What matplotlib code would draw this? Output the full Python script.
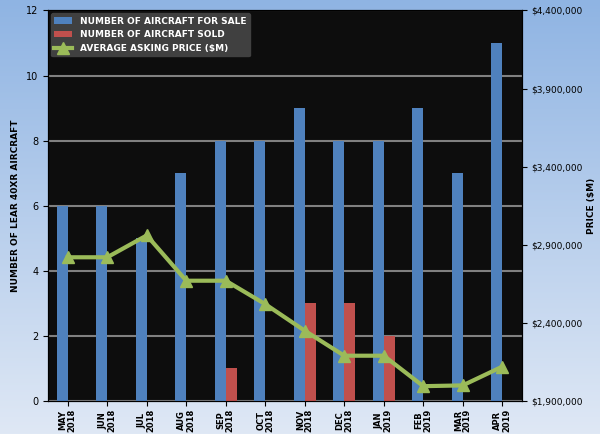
import matplotlib.pyplot as plt
import numpy as np
from matplotlib.ticker import FuncFormatter

months = ["MAY\n2018", "JUN\n2018", "JUL\n2018", "AUG\n2018", "SEP\n2018", "OCT\n2018",
          "NOV\n2018", "DEC\n2018", "JAN\n2019", "FEB\n2019", "MAR\n2019", "APR\n2019"]
for_sale = [6, 6, 5, 7, 8, 8, 9, 8, 8, 9, 7, 11]
sold = [0, 0, 0, 0, 1, 0, 3, 3, 2, 0, 0, 0]
avg_price = [2820000, 2820000, 2960000, 2670000, 2670000, 2520000,
             2350000, 2190000, 2190000, 1995000, 2000000, 2120000]

fig = plt.figure(figsize=(6.0, 4.34), dpi=100)
# blue gradient background
bg = fig.add_axes([0, 0, 1, 1], zorder=-10)
grad = np.linspace(0, 1, 256).reshape(-1, 1)
bg.imshow(grad, aspect="auto", cmap=plt.matplotlib.colors.LinearSegmentedColormap.from_list(
    "g", ["#8fb4e3", "#dfe8f5"]), extent=[0, 1, 0, 1])
bg.axis("off")

ax = fig.add_axes([0.08, 0.076, 0.79, 0.9])
ax.set_facecolor("#0d0d0d")
x = np.arange(len(months))
w = 0.28
ax.bar(x - w / 2, for_sale, w, color="#4f81bd", label="NUMBER OF AIRCRAFT FOR SALE", zorder=3)
ax.bar(x + w / 2, sold, w, color="#c0504d", label="NUMBER OF AIRCRAFT SOLD", zorder=3)
ax.set_ylim(0, 12)
ax.set_xlim(-0.5, len(months) - 0.5)
ax.set_yticks(range(0, 13, 2))
ax.grid(axis="y", color="#808080", lw=1.5, zorder=0)
ax.set_xticks(x)
ax.set_xticklabels(months, rotation=90, fontsize=6, fontweight="bold", linespacing=1.0)
ax.tick_params(axis="x", pad=2)
ax.tick_params(axis="y", labelsize=7)
ax.set_ylabel("NUMBER OF LEAR 40XR AIRCRAFT", fontsize=6.5, fontweight="bold")

ax2 = ax.twinx()
ax2.plot(x, avg_price, color="#9bbb59", lw=3, marker="^", ms=8,
         label="AVERAGE ASKING PRICE ($M)", zorder=5)
ax2.set_ylim(1900000, 4400000)
ax2.set_yticks(range(1900000, 4400001, 500000))
ax2.yaxis.set_major_formatter(FuncFormatter(lambda v, p: f"${v:,.0f}"))
ax2.tick_params(axis="y", labelsize=6.5)
ax2.set_ylabel("PRICE ($M)", fontsize=6.5, fontweight="bold", labelpad=3)

h1, l1 = ax.get_legend_handles_labels()
h2, l2 = ax2.get_legend_handles_labels()
leg = ax2.legend(h1 + h2, l1 + l2, loc="upper left", fontsize=6.5, facecolor="#404040",
                 edgecolor="#404040", framealpha=1, borderaxespad=0.3)
for t in leg.get_texts():
    t.set_color("white")
    t.set_fontweight("bold")

fig.savefig("out.png", dpi=100)
